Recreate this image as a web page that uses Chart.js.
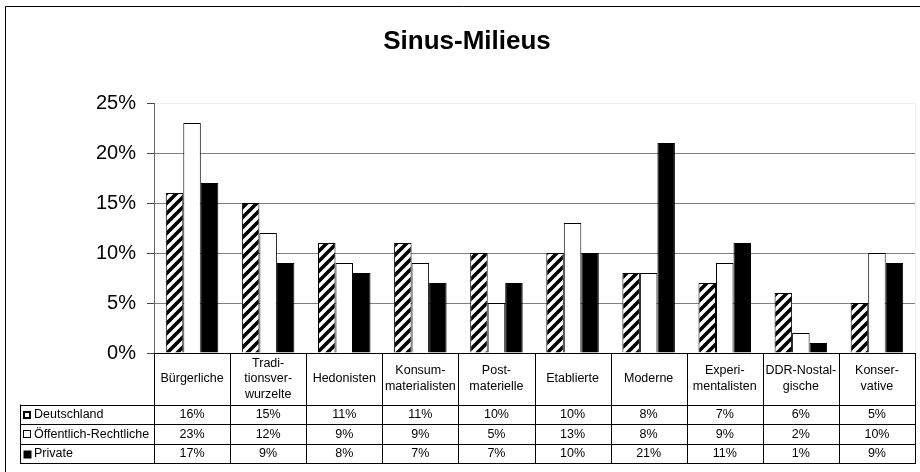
<!DOCTYPE html>
<html>
<head>
<meta charset="utf-8">
<script src="https://cdn.jsdelivr.net/npm/chart.js@4"></script>
<style>
  html, body { margin: 0; padding: 0; background: #fff; }
  #wrap { width: 920px; height: 472px; }
</style>
</head>
<body>
<div id="wrap"><canvas id="milieus" width="920" height="472"></canvas></div>
<script>
/* ---- Data ---- */
const categories = [
  ["Bürgerliche"],
  ["Tradi-", "tionsver-", "wurzelte"],
  ["Hedonisten"],
  ["Konsum-", "materialisten"],
  ["Post-", "materielle"],
  ["Etablierte"],
  ["Moderne"],
  ["Experi-", "mentalisten"],
  ["DDR-Nostal-", "gische"],
  ["Konser-", "vative"],
];
const seriesNames = ["Deutschland", "Öffentlich-Rechtliche", "Private"];
const deutschland = [16, 15, 11, 11, 10, 10, 8, 7, 6, 5];
const oeffentlich = [23, 12, 9, 9, 5, 13, 8, 9, 2, 10];
const privat = [17, 9, 8, 7, 7, 10, 21, 11, 1, 9];
const yTicks = [0, 5, 10, 15, 20, 25];

const FONT = "'Liberation Sans', Arial, sans-serif";

/* ---- Hatch pattern for Deutschland ---- */
const makeHatch = () => {
  const c = document.createElement("canvas");
  c.width = 10;
  c.height = 10;
  const g = c.getContext("2d");
  g.fillStyle = "#fff";
  g.fillRect(0, 0, 10, 10);
  g.strokeStyle = "#000";
  g.lineWidth = 3.6;
  g.beginPath();
  g.moveTo(-5, 5); g.lineTo(5, -5);
  g.moveTo(0, 10); g.lineTo(10, 0);
  g.moveTo(5, 15); g.lineTo(15, 5);
  g.stroke();
  return g.createPattern(c, "repeat");
};

/* ---- Frame, title and data table ---- */
const sheetPlugin = {
  id: "sheet",
  afterDraw(chart) {
    const { ctx, chartArea } = chart;
    const xs = chart.scales.x;
    const n = categories.length;
    const colW = (chartArea.right - chartArea.left) / n;
    const rows = [404.5, 424, 443.5, 463];
    const tableLeft = 20;

    ctx.save();

    // outer frame (top and left)
    ctx.strokeStyle = "#000";
    ctx.lineWidth = 1;
    ctx.beginPath();
    ctx.moveTo(5.5, 472); ctx.lineTo(5.5, 6.5); ctx.lineTo(920, 6.5);
    ctx.stroke();

    // faint plot border on the right
    ctx.strokeStyle = "#eeeeee";
    ctx.beginPath();
    ctx.moveTo(chartArea.right + 0.5, chartArea.top);
    ctx.lineTo(chartArea.right + 0.5, chartArea.bottom);
    ctx.stroke();

    // title
    ctx.fillStyle = "#000";
    ctx.font = `bold 26px ${FONT}`;
    ctx.textAlign = "center";
    ctx.textBaseline = "middle";
    ctx.fillText("Sinus-Milieus", 467, 42);

    // table grid
    ctx.strokeStyle = "#000";
    ctx.lineWidth = 1;
    ctx.beginPath();
    for (let i = 0; i <= n; i++) {
      const x = Math.round(chartArea.left + i * colW) + 0.5;
      ctx.moveTo(x, chartArea.bottom);
      ctx.lineTo(x, rows[rows.length - 1]);
    }
    ctx.moveTo(tableLeft + 0.5, rows[0]);
    ctx.lineTo(tableLeft + 0.5, rows[rows.length - 1]);
    rows.forEach((y) => {
      ctx.moveTo(tableLeft, Math.round(y) + 0.5);
      ctx.lineTo(chartArea.right + 1, Math.round(y) + 0.5);
    });
    ctx.stroke();

    // category labels
    ctx.font = `12.5px ${FONT}`;
    const labelMid = (chartArea.bottom + rows[0]) / 2;
    categories.forEach((lines, i) => {
      const cx = xs.getPixelForTick(i);
      const lh = 15.5;
      const y0 = labelMid - ((lines.length - 1) * lh) / 2;
      lines.forEach((t, k) => ctx.fillText(t, cx, y0 + k * lh));
    });

    // value rows with legend keys
    const allSeries = [deutschland, oeffentlich, privat];
    allSeries.forEach((vals, r) => {
      const cy = (rows[r] + rows[r + 1]) / 2 + 0.5;
      ctx.textAlign = "center";
      vals.forEach((v, i) => ctx.fillText(`${v}%`, xs.getPixelForTick(i), cy));

      // key square
      const kx = 23.5, ky = Math.round(cy - 4) + 0.5;
      if (r === 0) {
        ctx.fillStyle = "#fff";
        ctx.fillRect(kx, ky, 7, 7);
        ctx.lineWidth = 2;
        ctx.strokeRect(kx + 0.5, ky + 0.5, 6, 6);
        ctx.lineWidth = 1;
      } else if (r === 1) {
        ctx.fillStyle = "#fff";
        ctx.fillRect(kx, ky, 7, 7);
        ctx.strokeRect(kx, ky, 7, 7);
      } else {
        ctx.fillStyle = "#000";
        ctx.fillRect(kx, ky, 8, 8);
      }
      ctx.fillStyle = "#000";
      ctx.textAlign = "left";
      ctx.fillText(seriesNames[r], 34, cy);
    });

    ctx.restore();
  },
};

/* ---- Chart ---- */
const canvas = document.getElementById("milieus");
new Chart(canvas, {
  type: "bar",
  data: {
    labels: categories,
    datasets: [
      {
        label: seriesNames[0],
        data: deutschland,
        backgroundColor: makeHatch(),
        borderColor: "#000",
        borderWidth: 1,
      },
      {
        label: seriesNames[1],
        data: oeffentlich,
        backgroundColor: "#fff",
        borderColor: "#000",
        borderWidth: 1,
      },
      {
        label: seriesNames[2],
        data: privat,
        backgroundColor: "#000",
        borderColor: "#000",
        borderWidth: 1,
      },
    ],
  },
  options: {
    responsive: false,
    animation: false,
    events: [],
    layout: { padding: { top: 103, right: 5, left: 0, bottom: 0 } },
    datasets: { bar: { categoryPercentage: 0.69, barPercentage: 1 } },
    plugins: {
      legend: { display: false },
      title: { display: false },
      tooltip: { enabled: false },
    },
    scales: {
      x: {
        grid: { display: false },
        ticks: { display: false },
        border: { display: true, color: "#000", width: 1 },
        afterFit: (s) => { s.height = 119; },
      },
      y: {
        min: 0,
        max: 25,
        afterBuildTicks: (s) => { s.ticks = yTicks.map((v) => ({ value: v })); },
        ticks: {
          padding: 11,
          color: "#000",
          font: { family: FONT, size: 20 },
          callback: (v) => `${v}%`,
        },
        grid: {
          color: (c) => (c.tick && c.tick.value === 25 ? "#eeeeee" : "#808080"),
          tickColor: "#444",
          tickLength: 7,
          lineWidth: 1,
        },
        border: { display: true, color: "#666", width: 1 },
        afterFit: (s) => { s.width = 154; },
      },
    },
  },
  plugins: [sheetPlugin],
});
</script>
</body>
</html>
